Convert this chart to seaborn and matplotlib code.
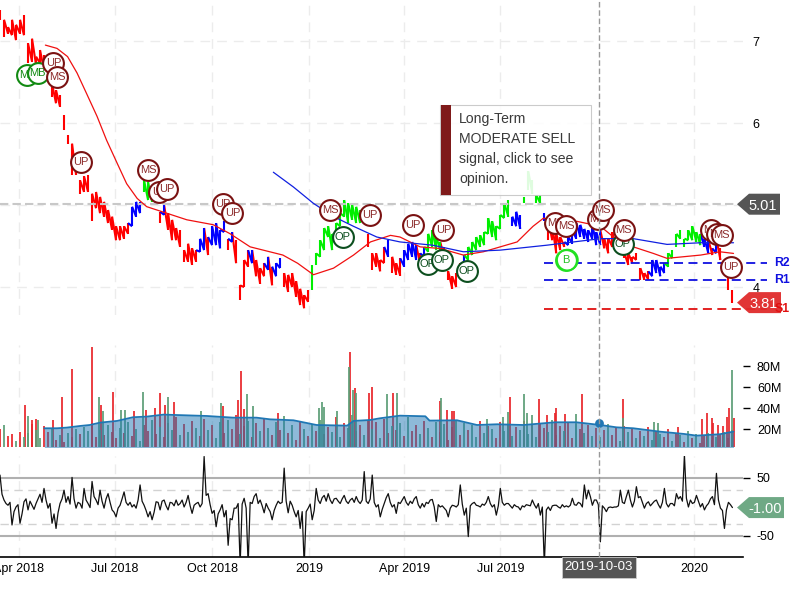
import matplotlib
matplotlib.use("Agg")
import numpy as np
import pandas as pd
import seaborn as sns
import matplotlib.pyplot as plt
import matplotlib.dates as mdates
from matplotlib.collections import LineCollection
from matplotlib.patches import Polygon, Rectangle
from matplotlib.transforms import IdentityTransform

START = pd.Timestamp("2018-03-14")
LAST_BAR = pd.Timestamp("2020-02-06")
AXIS_END = pd.Timestamp("2020-02-16")
CURSOR = pd.Timestamp("2019-10-03")

price_high = [
 7.38,7.26,7.17,7.26,7.20,7.26,7.32,6.97,7.03,6.81,
 6.89,6.83,6.65,6.48,6.40,6.34,6.10,5.85,5.75,5.59,
 5.30,5.35,5.37,5.14,5.16,5.10,5.04,4.94,4.86,4.74,
 4.74,4.74,4.78,4.98,5.04,5.04,5.30,5.28,5.16,5.10,
 4.92,5.00,4.90,4.82,4.72,4.70,4.45,4.53,4.47,4.45,
 4.59,4.72,4.61,4.74,4.78,4.70,4.80,4.59,4.67,4.57,
 4.02,4.33,4.45,4.45,4.33,4.23,4.29,4.37,4.25,4.29,
 4.35,4.17,4.15,4.17,4.07,3.98,3.90,3.96,4.27,4.41,
 4.57,4.72,4.74,4.65,4.78,4.90,5.06,5.02,5.00,4.98,
 4.94,4.86,4.65,4.41,4.41,4.33,4.49,4.57,4.37,4.29,
 4.35,4.45,4.53,4.55,4.51,4.41,4.49,4.65,4.69,4.61,
 4.55,4.49,4.19,4.13,4.17,4.29,4.39,4.49,4.55,4.61,
 4.63,4.67,4.84,4.80,4.74,4.88,5.02,5.06,4.86,4.92,
 4.88,5.10,5.41,5.30,5.12,5.12,4.90,4.80,4.74,4.65,
 4.61,4.55,4.61,4.69,4.78,4.76,4.71,4.69,4.76,4.67,
 4.69,4.59,4.59,4.67,4.61,4.53,4.41,4.41,4.37,4.41,
 4.23,4.17,4.19,4.33,4.33,4.25,4.29,4.41,4.45,4.65,
 4.69,4.59,4.69,4.74,4.67,4.65,4.59,4.57,4.47,4.59,
 4.47,4.33,4.14,3.96]
price_low = [
 7.26,7.05,7.09,7.07,7.01,7.09,7.07,6.73,6.75,6.71,
 6.73,6.65,6.52,6.32,6.24,6.20,5.91,5.75,5.37,5.37,
 5.14,5.16,5.16,4.80,4.96,4.90,4.86,4.78,4.70,4.57,
 4.57,4.59,4.65,4.74,4.86,4.90,5.16,5.06,5.04,5.02,
 4.78,4.88,4.70,4.57,4.57,4.49,4.31,4.31,4.27,4.31,
 4.43,4.45,4.39,4.51,4.51,4.47,4.67,4.45,4.55,4.29,
 3.84,4.00,4.25,4.29,4.13,4.04,4.13,4.21,4.02,4.13,
 4.23,4.00,3.94,4.00,3.88,3.78,3.74,3.82,3.96,4.27,
 4.37,4.45,4.61,4.45,4.57,4.74,4.86,4.78,4.82,4.78,
 4.78,4.78,4.49,4.21,4.25,4.19,4.29,4.37,4.17,4.15,
 4.14,4.25,4.33,4.37,4.33,4.27,4.37,4.43,4.49,4.45,
 4.45,4.35,4.09,3.98,4.00,4.13,4.25,4.33,4.39,4.45,
 4.49,4.51,4.65,4.61,4.57,4.71,4.84,4.86,4.74,4.74,
 4.71,5.02,5.18,5.14,5.02,5.02,4.80,4.57,4.57,4.41,
 4.45,4.49,4.51,4.53,4.59,4.61,4.59,4.55,4.59,4.51,
 4.51,4.47,4.41,4.49,4.49,4.41,4.35,4.27,4.29,4.33,
 4.09,4.09,4.09,4.13,4.17,4.13,4.17,4.25,4.35,4.49,
 4.59,4.49,4.57,4.57,4.55,4.51,4.49,4.41,4.39,4.41,
 4.33,4.19,3.96,3.80]
price_state = ("r"*33+"b"*3+"g"*3+"b"+"r"+"b"+"r"*8+"b"*2+"r"+"b"*4+"r"+"b"+"r"*4+"b"+"r"*3+"b"+"r"+"b"*2
               +"r"*7+"g"*14+"r"*5+"b"+"r"*3+"b"*4+"r"+"b"+"g"*4+"r"*5+"b"+"g"*11+"b"*3+"g"*5+"b"
               +"r"*5+"b"*9+"r"*12+"b"*4+"g"*9+"b"*2+"r"+"b"+"r"*4)

red_ma_days = [43,54,64,73,82,92,101,111,120,130,139,158,177,202,218,237,268,282,297,316,335,351,370,379,
               398,417,439,458,490,505,515,531,547,569,585,600,619,632,664,682,695]
red_ma = [6.95,6.91,6.81,6.61,6.36,6.08,5.79,5.51,5.26,5.08,4.98,4.90,4.82,4.76,4.65,4.49,4.39,4.29,4.15,4.23,4.39,4.55,4.63,4.61,
          4.49,4.47,4.39,4.43,4.55,4.74,4.84,4.80,4.80,4.74,4.57,4.49,4.41,4.35,4.39,4.43,4.41]
blue_ma_days = [259,278,297,316,335,357,379,410,439,474,518,569,588,600,632,664,695]
blue_ma = [5.40,5.22,5.02,4.86,4.74,4.61,4.55,4.51,4.43,4.45,4.51,4.59,4.59,4.59,4.52,4.54,4.54]

vol_base = [
 20,24,13,15,9,17,12,16,25,19, 11,23,17,21,10,14,8,16,12,20,
 15,22,18,26,12,19,14,24,17,11, 21,16,27,13,20,9,24,18,29,15,
 22,12,26,19,31,14,25,17,28,21, 13,30,19,24,11,27,16,29,20,33,
 15,23,28,12,26,18,30,21,14,27, 19,32,16,24,10,28,20,13,25,18,
 29,15,22,17,31,12,26,21,33,18, 24,14,29,20,27,11,30,16,23,19,
 26,13,31,18,24,15,28,21,12,27, 17,25,10,22,29,14,26,19,24,12,
 28,16,23,20,11,27,18,25,13,22, 19,28,15,24,12,26,21,17,29,14,
 23,18,27,11,25,20,16,24,13,21, 12,19,25,14,22,9,23,17,20,11,
 18,13,22,10,17,15,12,20,9,16, 14,8,18,11,15,7,13,16,10,12,
 14,17,11,19]
vol_base_state = ("rgrrgrggrg" "grrgrgrgrg" "rggrrgrgrr" "grgrggrrgr" "grrgrgrgrg" "rrgrggrgrr"
                  "grgrrgrgrg" "rgrgrrgrgr" "grrgrgrggr" "rgrgrgrrgr" "grgrrgrgrg" "rgrrgrgrgg"
                  "rgrgrrgrgr" "grgrgrrggr" "rgrrgrgrgr" "grgrrgrgrg" "rgrgrgrrgr" "grgrgrrgrg" "rgrr")
vol_peak_days = [23.7,26.9,30,34.1,36.3,50.6,58.5,67.9,86.9,94.2,95.4,97.9,107.4,114.4,118.8,127.3,135.9,138.1,
                 146.9,151.7,156.4,159.6,164.9,190.5,209.5,211.7,225.9,228.4,231.6,233.8,240.1,263.8,302.7,
                 304.9,307.1,319.7,330.5,332.1,334,335.9,337.4,350.1,352,366.5,372.2,376,416.9,418.2,423.2,
                 428,430.5,461.1,477,481.1,483.6,496.9,499.7,503.8,511.1,518.7,525.9,526.9,535.4,545.8,551.8,
                 590,590.7,620,623,642.8,664.9,669.7,674.4,676,680.7,685.5,688.6,691.2,694,695.3]
vol_peak = [42.9,32.4,28.6,29.2,28.6,28.6,50.8,76.9,97.8,50.2,42.9,37.5,55.6,38.1,38.1,37.5,55.6,38.1,
            39.7,54.0,42.9,50.8,45.4,37.5,44.5,42.3,47.7,75.6,38.8,53.1,42.3,35.6,39.7,
            45.4,41.3,37.5,79.4,93.7,57.2,59.4,54.6,54.6,60.4,53.1,54.0,54.6,47.0,49.2,38.1,
            37.5,37.5,29.2,31.8,35.9,50.2,53.1,35.0,33.4,48.3,33.4,35.6,39.7,34.3,34.3,53.1,
            30.2,48.3,27.0,26.0,22.3,29.2,35.0,30.2,25.4,23.8,22.9,31.8,40.4,76.2,30.2]
vol_peak_state = "rgrrgrrrrgrgrggrgrrrrgrgg" "rrrrgg" "rgggg" "grgrgrrgrg" "rgrrr" "ggg" "rgggr" "rrrrgr" "grgg" "rrrrrrrrrgr"
vol_ma_days = [42,54,63,76,85,95,111,126,139,155,174,196,221,243,256,278,300,329,335,351,360,379,
               403,407,433,452,471,496,526,546,569,584,600,625,648,660,682,695]
vol_ma = [20.7,20.7,21.3,22.9,23.8,26.1,27.7,31.2,31.8,33.7,33.1,32.4,30.8,30.8,29.2,28.3,23.8,23.2,27.7,28.6,30.2,32.7,
          32.1,28.0,28.3,23.8,24.5,23.8,26.4,26.4,23.8,21.6,20.7,17.5,15.3,13.7,15.0,17.5]

cci_main = [55,12,3,-31,0,-28,9,-5,3,6,22,32,-2,-28,-37,6,29,18,51,-2,6,32,6,44,12,29,-2,23,-5,-17,
       3,26,3,0,-2,38,3,-17,-22,9,-5,12,-5,7,12,6,0,20,-11,6,0,87,23,-11,-34,-5,-17,-66,-22,-2,
       -100,15,-100,6,23,12,-10,-2,-22,3,6,67,-10,3,-17,-37,-100,-2,-22,32,6,20,23,6,15,6,20,6,15,18,
       6,61,6,55,0,-17,6,23,0,-11,
       6,18,3,6,18,-2,0,6,13,-25,0,-2,-17,3,0,38,-14,-51,6,3,0,3,18,0,-14,32,3,6,-2,1,-5,0,3,12,-2,
       -14,-100,0,2,3,-2,0,0,15,3,6,38,29,3,12,-60,-2,-1,-1,0,29,6,29,0,35,18,-2,9,6,12,-2,32,0,6,
       23,18,90,0,6,20,0,-5,6,18,58,-2,-37,8,-1]
cci_between = [22,6,8,-8,4,-12,14,10,-4,14,8,12,6,-12,-10,14,8,5,14,8,-2,12,-1,18,4,10,14,8,-9,-2,
       14,8,8,4,12,10,-6,-8,-9,8,10,2,8,2,3,12,8,2,3,8,6,20,4,-6,-12,4,-6,-20,-2,6,
       5,-2,8,18,6,2,6,-8,-6,10,8,10,10,-8,-6,-8,-8,5,-6,12,16,10,12,14,10,14,10,12,8,10,
       12,10,14,8,4,-4,16,8,4,8,
       12,8,10,14,4,6,8,12,0,4,2,-6,-2,2,4,5,-2,2,8,2,5,8,6,4,2,8,6,2,4,0,2,4,2,4,6,
       0,-5,-6,3,0,4,2,3,4,8,0,14,18,12,4,2,-8,0,0,2,8,18,12,10,16,8,6,2,10,4,8,6,6,2,
       14,10,15,12,8,10,6,2,14,4,12,-6,-5,4]

signal_days = [25.9,35.7,50.6,54.3,76.5,140.3,151,158,211,220.2,312.8,324.8,350.7,391.2,420.2,405.4,418.7,442.4,
               526,536.2,536.2,566.2,571,590.2,590.8,673.6,679.3,683.7,692.9]
signal_price = [6.59,6.61,6.73,6.56,5.52,5.43,5.16,5.20,5.01,4.90,4.94,4.61,4.88,4.76,4.69,4.28,4.33,4.19,
                4.78,4.74,4.33,4.83,4.94,4.53,4.70,4.69,4.65,4.63,4.24]
signal_text = ["MB","MB","UP","MS","UP","MS","UP","UP","UP","UP","MS","OP","UP","UP","UP","OP","OP","OP",
               "MS","MS","B","MS","MS","OP","MS","MS","MS","MS","UP"]
level_names = ["R2","R1","S1"]
level_values = [4.29,4.09,3.73]
level_start_day = 515.6
level_end_day = 727
last_price_line = 5.01
last_close = 3.81
volume_ma_at_cursor = 25.5
last_cci = -1.00
price_ticks = [7,6,5,4]
vol_ticks = [20,40,60,80]
cci_ticks = [50,-50]
date_ticks = ["2018-04-01","2018-07-01","2018-10-01","2019-01-01","2019-04-01","2019-07-01","2020-01-01"]
date_labels = ["Apr 2018","Jul 2018","Oct 2018","2019","Apr 2019","Jul 2019","2020"]

sns.set_theme(style="white")
plt.rcParams["font.family"] = ["Liberation Sans", "DejaVu Sans"]
W, H = 800, 600
fig = plt.figure(figsize=(8, 6), dpi=100)

def panel(top, bottom, right=743):
    return fig.add_axes([0, 1 - bottom / H, right / W, (bottom - top) / H])

ax1 = panel(0, 315)
ax2 = panel(345, 447)
ax3 = panel(456, 557)
day = lambda d: START + pd.to_timedelta(np.asarray(d, dtype=float), unit="D")
bar_dates = pd.date_range(START, LAST_BAR, periods=len(price_high))
tick_dates = pd.to_datetime(date_ticks)
GRID = "#ececec"

BAR_COL = {"r": "#ff0000", "b": "#0000ff", "g": "#00ee00"}
VOL_COL = {"r": "#e8262a", "g": "#5c9e76"}

for ax in (ax1, ax2, ax3):
    ax.set_xlim(START, AXIS_END)
    for s in ax.spines.values():
        s.set_visible(False)
    ax.patch.set_alpha(0)
    ax.set_xticks(tick_dates)
    ax.grid(True, axis="x", color=GRID, lw=1.0, ls=(0, (7, 5)))
    ax.set_axisbelow(True)
    ax.yaxis.tick_right()

# price
ax1.set_ylim(3.659, 7.5)
ax1.grid(True, axis="y", color=GRID, lw=1.0, ls=(0, (7, 5)))
hi = np.array(price_high)
lo = np.array(price_low)
xn = mdates.date2num(bar_dates)
for code, col in BAR_COL.items():
    idx = [i for i, c in enumerate(price_state) if c == code]
    ax1.vlines(bar_dates[idx], lo[idx], hi[idx], color=col, lw=1.5, zorder=2)
    # the zigzag between neighbouring ranges, only where they touch
    segs = [[(xn[i - 1], hi[i - 1]), (xn[i], lo[i])] for i in idx
            if i > 0 and lo[i] < hi[i - 1] and hi[i] > lo[i - 1]]
    ax1.add_collection(LineCollection(segs, colors=col, linewidths=1.5, zorder=2))
sns.lineplot(x=day(red_ma_days), y=red_ma, color="#f01010", lw=0.9, ax=ax1, zorder=3)
sns.lineplot(x=day(blue_ma_days), y=blue_ma, color="#1020e0", lw=0.9, ax=ax1, zorder=3)
ax1.axhline(last_price_line, color="#c8c8c8", lw=1.5, ls=(0, (4, 2)), xmax=737 / 743, zorder=2.5)
for name, lv in zip(level_names, level_values):
    col = "#e01010" if name.startswith("S") else "#1010e0"
    ax1.plot([day(level_start_day), day(level_end_day)], [lv, lv], color=col, lw=1.3, ls=(0, (5, 3)),
             clip_on=False, zorder=3)
ax1.set_yticks(price_ticks)
ax1.set_yticklabels([str(t) for t in price_ticks], fontsize=9, color="black")
ax1.tick_params(axis="y", length=0, pad=7)
ax1.tick_params(axis="x", length=0, labelbottom=False)

# signal badges
for k, (d, p, t) in enumerate(zip(signal_days, signal_price, signal_text)):
    if t == "MB":
        edge, tc = "#128a12", "#128a12"
    elif t == "OP":
        edge, tc = "#0d4f1f", "#0d4f1f"
    elif t == "B":
        edge, tc = "#22e022", "#22c022"
    else:
        edge, tc = "#7a1212", "#8c2a2a"
    z = 5 + k * 0.01
    ax1.scatter([day(d)], [p], s=225, facecolor="white", edgecolor=edge, lw=1.5, zorder=z, clip_on=False)
    if t == "B":
        ax1.scatter([day(d + 1.5)], [p], s=225, facecolor="none", edgecolor=edge, lw=1.2, zorder=z)
    ax1.text(day(d), p, t, ha="center", va="center", fontsize=8, color=tc, zorder=z + 0.005)

# volume
ax2.set_ylim(2.86, 100)
vol_all_x = list(bar_dates) + list(day(vol_peak_days))
vol_all_y = list(vol_base) + list(vol_peak)
vol_all_c = vol_base_state + vol_peak_state
for code, col in VOL_COL.items():
    idx = [i for i, c in enumerate(vol_all_c) if c == code]
    ax2.vlines([vol_all_x[i] for i in idx], 0, [vol_all_y[i] for i in idx], color=col, lw=1.25, zorder=2)
ax2.fill_between(day(vol_ma_days), 0, vol_ma, color="#1f77b4", alpha=0.5, lw=0, zorder=3)
sns.lineplot(x=day(vol_ma_days), y=vol_ma, color="#1f77b4", lw=1.3, ax=ax2, zorder=4)
ax2.scatter([CURSOR], [volume_ma_at_cursor], s=28, color="#1f77b4", zorder=5)
ax2.set_yticks(vol_ticks)
ax2.set_yticklabels([f"{t}M" for t in vol_ticks], fontsize=9, color="black")
ax2.tick_params(axis="y", length=5, width=1, color="black", pad=5, direction="out")
ax2.tick_params(axis="x", length=0, labelbottom=False)

# CCI
ax3.set_ylim(-86.2, 87.9)
for lv in cci_ticks:
    ax3.axhline(lv, color="#b0b0b0", lw=1.5, zorder=1)
for lv in (30, -30):
    ax3.axhline(lv, color="#d2d2d2", lw=1.0, ls=(0, (6, 4)), zorder=1)
cci_all = []
for a, b in zip(cci_main, cci_between + [None]):
    cci_all.append(a)
    if b is not None:
        cci_all.append(b)
cci_dates = pd.date_range(START, LAST_BAR, periods=len(cci_all))
sns.lineplot(x=cci_dates, y=cci_all, color="#111111", lw=0.9, ax=ax3, zorder=3)
ax3.set_yticks(cci_ticks)
ax3.set_yticklabels([str(t) for t in cci_ticks], fontsize=9, color="black")
ax3.tick_params(axis="y", length=5, width=1, color="black", pad=5, direction="out")
ax3.set_xticklabels(date_labels, fontsize=9, color="black")
ax3.tick_params(axis="x", length=0, pad=4)
ax3.spines["bottom"].set_visible(True)
ax3.spines["bottom"].set_color("black")
ax3.spines["bottom"].set_linewidth(1.2)

for ax in (ax1, ax2, ax3):
    ax.set_xlabel("")
    ax.set_ylabel("")

# cursor line through all panels
ax3.axvline(CURSOR, ymin=0, ymax=557 / 101, color="#999999", lw=1.0, ls=(0, (4, 2)), clip_on=False, zorder=4.5)

# tags on the right and on the date axis
def tag(ax, value, label, col, right, alpha=1.0, half=10.5):
    fig.canvas.draw()
    y = ax.transData.transform((0, value))[1]
    tip, body = 737, 749
    fig.add_artist(Polygon([(tip, y), (body, y + half), (right, y + half), (right, y - half), (body, y - half)],
                           closed=True, fc=col, ec="none", alpha=alpha, transform=IdentityTransform(), zorder=6))
    fig.text((body + right) / 2 / W - 0.002, y / H, label, color="white", fontsize=10.5, ha="center",
             va="center_baseline", zorder=7)

tag(ax1, last_price_line, "5.01", "#555555", 780)
tag(ax1, last_close, "3.81", "#e02b2b", 781, alpha=0.95)
tag(ax3, last_cci, "-1.00", "#6fa985", 784)

fig.add_artist(Rectangle((562 / W, 1 - 578 / H), 74 / W, 21 / H, transform=fig.transFigure,
                         fc="#555555", ec="#cccccc", lw=0.6, zorder=6))
fig.text(599 / W, 1 - 567.5 / H, "2019-10-03", color="white", fontsize=9.6, ha="center", va="center", zorder=7)

for name, lv in zip(level_names, level_values):
    col = "#e01010" if name.startswith("S") else "#1010e0"
    y = ax1.transData.transform((0, lv))[1]
    fig.text(782 / W, y / H, name, color=col, fontsize=8.8, fontweight="bold", ha="center", va="center", zorder=8)

# opinion box
fig.add_artist(Rectangle((440 / W, 1 - 195 / H), 151 / W, 90 / H, transform=fig.transFigure,
                         fc="white", ec="#c4c4c4", lw=0.8, alpha=0.88, zorder=6))
fig.add_artist(Rectangle((441 / W, 1 - 195 / H), 10 / W, 90 / H, transform=fig.transFigure,
                         fc="#7f1a1a", ec="none", zorder=7))
for i, line in enumerate(["Long-Term", "MODERATE SELL", "signal, click to see", "opinion."]):
    fig.text(459 / W, 1 - (119 + 20 * i) / H, line, color="#3a3a3a", fontsize=10.1, ha="left", va="center", zorder=8)

fig.savefig("out.png", dpi=100, facecolor="white")
